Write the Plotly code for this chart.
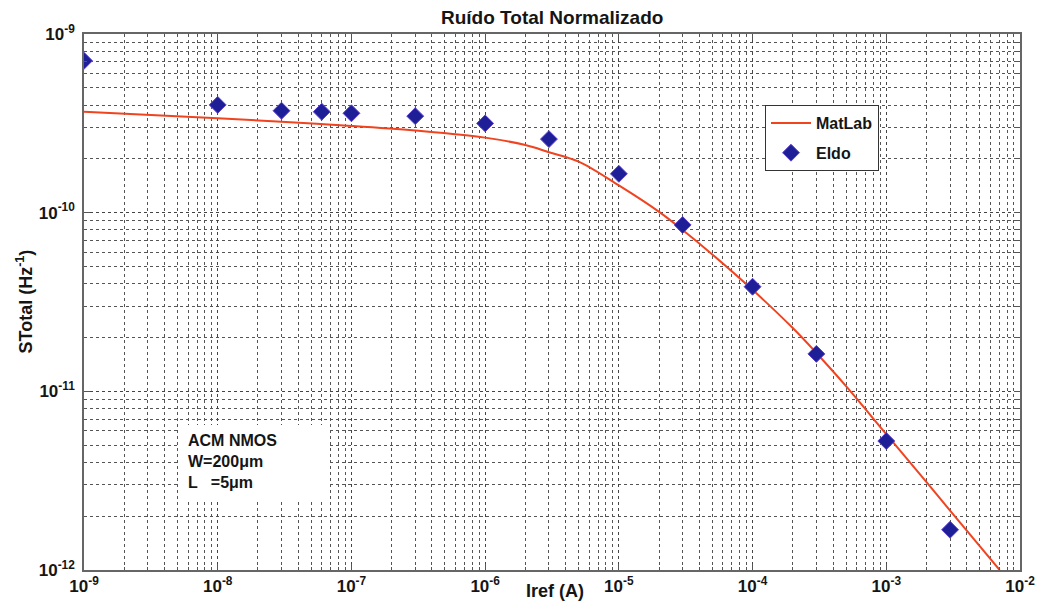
import plotly.graph_objects as go

# --- data ---
eldo_x = [1e-9, 1e-8, 3e-8, 6e-8, 1e-7, 3e-7, 1e-6, 3e-6, 1e-5, 3e-5, 1e-4, 3e-4, 1e-3, 3e-3]
eldo_y = [7.08e-10, 4.01e-10, 3.72e-10, 3.67e-10, 3.60e-10, 3.47e-10, 3.16e-10, 2.58e-10,
          1.65e-10, 8.53e-11, 3.85e-11, 1.62e-11, 5.27e-12, 1.68e-12]

matlab_x = [1e-9, 1e-8, 3e-8, 1e-7, 3e-7, 1e-6, 2e-6, 3e-6, 5e-6, 1e-5, 2e-5, 3e-5, 5e-5,
            1e-4, 2e-4, 3e-4, 5e-4, 1e-3, 2e-3, 3e-3, 5e-3, 7.04e-3]
matlab_y = [3.67e-10, 3.38e-10, 3.23e-10, 3.06e-10, 2.88e-10, 2.63e-10, 2.39e-10, 2.18e-10,
            1.93e-10, 1.42e-10, 1.01e-10, 8.00e-11, 5.84e-11, 3.70e-11, 2.26e-11, 1.64e-11,
            1.07e-11, 5.76e-12, 3.10e-12, 2.15e-12, 1.36e-12, 1.0e-12]

x_decades = [-9, -8, -7, -6, -5, -4, -3, -2]
y_decades = [-12, -11, -10, -9]
x_ticktext = ["10<sup>%d</sup>" % d for d in x_decades]
y_ticktext = ["10<sup>%d</sup>" % d for d in y_decades]

title_text = "Ruído Total Normalizado"
x_title = "Iref (A)"
y_title = "STotal (Hz<sup>-1</sup>)"
info_text = "ACM NMOS<br>W=200μm<br>L   =5μm"

FONT = "Liberation Sans, Arial, sans-serif"
TXT = "#151515"

def minor_vals(decades):
    vals = []
    for d in decades[:-1]:
        for m in range(2, 10):
            vals.append(m * 10.0 ** d)
    return vals

fig = go.Figure()
fig.add_trace(go.Scatter(
    x=matlab_x, y=matlab_y, mode="lines", name="MatLab", legendgroup="a",
    line=dict(color="#f0431f", width=2, shape="spline", smoothing=1.0),
))
fig.add_trace(go.Scatter(
    x=eldo_x, y=eldo_y, mode="markers", name="Eldo", legendgroup="b",
    marker=dict(symbol="diamond", size=13, color="#1e1e96",
                line=dict(color="#5b3fd0", width=1)),
))

grid_common = dict(
    type="log", automargin=False,
    showgrid=True, gridcolor="#444444", griddash="dot", gridwidth=1,
    showline=True, linecolor="#666666", linewidth=1.5, mirror="ticks",
    ticks="inside", ticklen=6, tickcolor="#555555",
    tickmode="array",
    tickfont=dict(family=FONT, size=17, color=TXT, weight="bold"),
    zeroline=False,
)
minor_common = dict(showgrid=True, gridcolor="#555555", griddash="dot", gridwidth=1,
                    ticks="inside", ticklen=3, tickcolor="#555555", tickmode="array")

fig.update_xaxes(
    **grid_common,
    range=[-9, -2],
    tickvals=[10.0 ** d for d in x_decades], ticktext=x_ticktext,
    minor=dict(tickvals=minor_vals(x_decades), **minor_common),
)
fig.update_yaxes(
    **grid_common,
    range=[-12, -9],
    tickvals=[10.0 ** d for d in y_decades], ticktext=y_ticktext,
    ticklabelstandoff=4,
    minor=dict(tickvals=minor_vals(y_decades), **minor_common),
)

fig.add_annotation(
    text=title_text, xref="paper", yref="paper", x=0.5, y=1, yanchor="bottom",
    yshift=4, showarrow=False,
    font=dict(family=FONT, size=19, color=TXT, weight="bold"),
)
fig.add_annotation(
    text=x_title, xref="paper", yref="paper", x=0.503, y=0, yanchor="top",
    yshift=-9, showarrow=False,
    font=dict(family=FONT, size=18, color=TXT, weight="bold"),
)
fig.add_annotation(
    text=y_title, xref="paper", yref="paper", x=0, y=0.5, xanchor="right",
    xshift=-46, textangle=-90, showarrow=False,
    font=dict(family=FONT, size=18, color=TXT, weight="bold"),
)
# white panel behind the device annotation
fig.add_shape(type="rect", xref="paper", yref="paper",
              x0=(180 - 84) / 936, x1=(329 - 84) / 936,
              y0=(570 - 499) / 536, y1=(570 - 425) / 536,
              fillcolor="white", line=dict(width=0), layer="above")
fig.add_annotation(
    text=info_text, xref="paper", yref="paper", x=(186 - 84) / 936, y=(570 - 430) / 536,
    xanchor="left", yanchor="top", align="left", showarrow=False,
    font=dict(family=FONT, size=16, color=TXT, weight="bold"),
)

fig.update_layout(
    width=1039, height=603,
    margin=dict(l=84, r=19, t=34, b=33),
    paper_bgcolor="white", plot_bgcolor="white",
    showlegend=True,
    legend=dict(
        x=(765 - 84) / 936, y=(570 - 105) / 536, xanchor="left", yanchor="top",
        bgcolor="white", bordercolor="#333333", borderwidth=1,
        font=dict(family=FONT, size=16, color=TXT, weight="bold"),
        tracegroupgap=6, itemwidth=40,
        entrywidth=72, entrywidthmode="pixels",
    ),
)

fig.write_html(
    "out.html",
    config={"displayModeBar": False},
    post_script="document.body.style.margin='0';document.body.style.padding='0';",
)
